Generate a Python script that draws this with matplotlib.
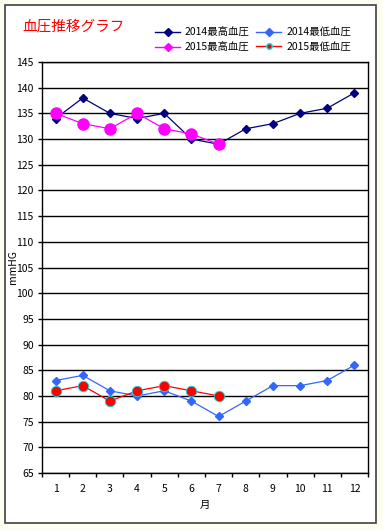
import matplotlib
matplotlib.use("Agg")
import matplotlib.pyplot as plt
from matplotlib.lines import Line2D
from matplotlib.patches import Rectangle

plt.rcParams['font.family'] = ['Noto Sans CJK JP', 'DejaVu Sans']

months = ['1', '2', '3', '4', '5', '6', '7', '8', '9', '10', '11', '12']
high_2014 = [134, 138, 135, 134, 135, 130, 129, 132, 133, 135, 136, 139]
low_2014 = [83, 84, 81, 80, 81, 79, 76, 79, 82, 82, 83, 86]
high_2015 = [135, 133, 132, 135, 132, 131, 129]
low_2015 = [81, 82, 79, 81, 82, 81, 80]
yticks = list(range(65, 146, 5))

W, H = 383, 530
fig = plt.figure(figsize=(W / 100, H / 100), dpi=100)
fig.patch.set_facecolor('#fdfdf0')
fig.patches.append(Rectangle((5 / W, 1 - 523 / H), 371 / W, 518 / H, transform=fig.transFigure,
                             facecolor='white', edgecolor='#404040', linewidth=1.2, zorder=-5))

ax = fig.add_axes([42 / W, 1 - 473 / H, 326 / W, 411 / H])
ax.set_facecolor('white')

x14 = list(range(len(months)))
x15 = list(range(len(high_2015)))

ax.plot(x14, high_2014, color='#000080', marker='D', markersize=4, linewidth=0.9, zorder=3)
ax.plot(x14, low_2014, color='#3366ff', marker='D', markersize=4, linewidth=0.9, zorder=3)
ax.plot(x15, high_2015, color='#ff00ff', marker='o', markersize=8, linewidth=0.9, zorder=4)
ax.plot(x15, low_2015, color='#ff0000', marker='o', markersize=7.5, markeredgecolor='#00e0e0',
        markeredgewidth=0.6, linewidth=0.9, zorder=4)

ax.set_xlim(-0.5, len(months) - 0.5)
ax.set_ylim(65, 145)
ax.set_yticks(yticks)
ax.yaxis.grid(True, color='black', linewidth=1)
ax.set_axisbelow(True)
ax.set_xticks(x14)
ax.set_xticklabels(months)
ax.set_xticks([i - 0.5 for i in range(len(months) + 1)], minor=True)
ax.tick_params(axis='x', which='major', length=0, pad=8, labelsize=7.5)
ax.tick_params(axis='x', which='minor', length=3, direction='out', width=1)
ax.tick_params(axis='y', length=3, width=1, labelsize=7.5, pad=3)
for s in ax.spines.values():
    s.set_color('black')
    s.set_linewidth(1)

ax.set_xlabel('月', fontsize=7.5, labelpad=4)
fig.text(13 / W, 1 - 267 / H, 'mmHG', rotation=90, fontsize=7.5, ha='center', va='center')

fig.text(22 / W, 1 - 27 / H, '血圧推移グラフ', color='red', fontsize=10.5, ha='left', va='center')

handles = [
    Line2D([], [], color='#000080', marker='D', markersize=4, linewidth=1),
    Line2D([], [], color='#ff00ff', marker='D', markersize=4, linewidth=1),
    Line2D([], [], color='#3366ff', marker='D', markersize=4, linewidth=1),
    Line2D([], [], color='#ff0000', marker='o', markersize=4, markeredgecolor='#00e0e0', linewidth=1),
]
labels = ['2014最高血圧', '2015最高血圧', '2014最低血圧', '2015最低血圧']
fig.legend(handles, labels, loc='upper left', bbox_to_anchor=(150 / W, 1 - 22 / H), ncol=2,
           frameon=False, fontsize=7.5, handlelength=2.4, handletextpad=0.45, columnspacing=0.65,
           labelspacing=0.45, borderpad=0)

fig.savefig('out.png', dpi=100, facecolor=fig.get_facecolor())
